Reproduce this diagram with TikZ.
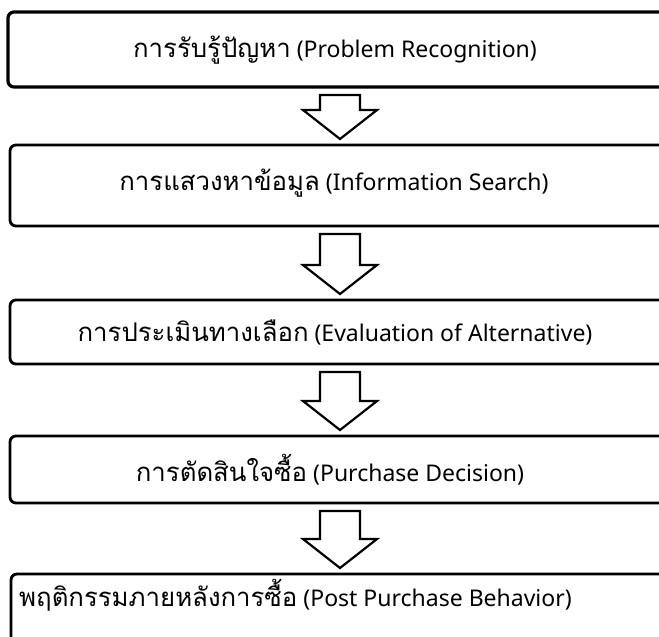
\documentclass[tikz,border=0pt]{standalone}
\usepackage{fontspec}
\setmainfont{Noto Sans}
\newfontfamily\thaifont[Script=Thai, Scale=1.12]{Loma}
\usetikzlibrary{calc}

\tikzset{
  stagebox/.style={draw=black, line width=2.8pt, rounded corners=6pt,
    anchor=north west, outer sep=0pt, inner sep=0pt, minimum width=657pt},
  stagetext/.style={font=\fontsize{23}{27}\selectfont, inner sep=0pt, text=black},
  arrowline/.style={draw=black, line width=2.2pt, line join=miter, fill=white}
}

% block arrow from the bottom of one stage to the top of the next
\newcommand\flowarrow[2]{%
  \draw[arrowline]
    ($(#1 -| ax)+(-20,8)$) -- ($(#2 -| ax)+(-20,-35)$) -- ++(-17,0)
    -- ($(#2 -| ax)+(0,-6)$)
    -- ($(#2 -| ax)+(37,-35)$) -- ++(-17,0)
    -- ($(#1 -| ax)+(20,8)$) -- cycle;}

\begin{document}
\begin{tikzpicture}[x=1pt, y=-1pt]
  \clip (0,0) rectangle (659,637);
  \fill[white] (0,0) rectangle (659,637);
  \coordinate (ax) at (340,0);

  % stages
  \node[stagebox, line width=3.2pt, minimum height=75pt] (b1) at (8,12) {};
  \node[stagebox, minimum height=81pt] (b2) at (10,145) {};
  \node[stagebox, minimum height=64pt] (b3) at (10,300) {};
  \node[stagebox, minimum height=67pt] (b4) at (10,436) {};
  \node[stagebox, minimum height=100pt] (b5) at (11,574) {};

  % stage labels
  \node[stagetext] (t1) at (335,50)  {{\thaifont การรับรู้ปัญหา} (Problem Recognition)};
  \node[stagetext] (t2) at (334,183) {{\thaifont การแสวงหาข้อมูล} (Information Search)};
  \node[stagetext] (t3) at (335,332) {{\thaifont การประเมินทางเลือก} (Evaluation of Alternative)};
  \node[stagetext] (t4) at (330,470) {{\thaifont การตัดสินใจซื้อ} (Purchase Decision)};
  \node[stagetext, anchor=west] (t5) at (19,595) {{\thaifont พฤติกรรมภายหลังการซื้อ} (Post Purchase Behavior)};

  % connectors
  \flowarrow{b1.south}{b2.north}
  \flowarrow{b2.south}{b3.north}
  \flowarrow{b3.south}{b4.north}
  \flowarrow{b4.south}{b5.north}
\end{tikzpicture}
\end{document}
